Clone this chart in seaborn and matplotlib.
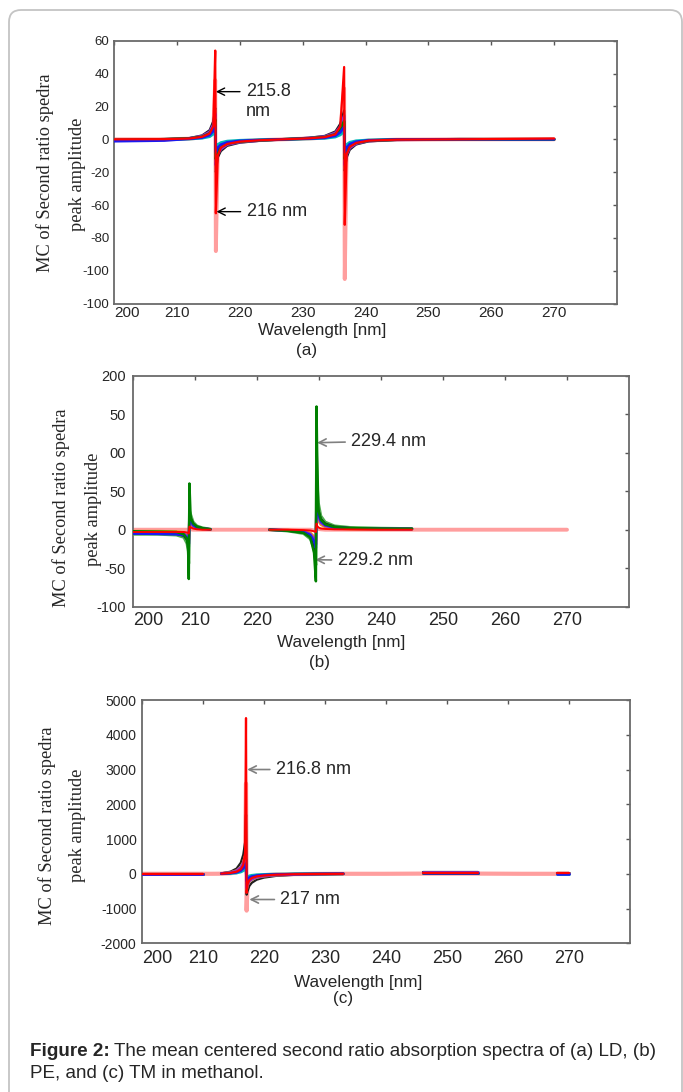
import numpy as np
import pandas as pd
import seaborn as sns
import matplotlib.pyplot as plt
from matplotlib.patches import FancyBboxPatch

# figure 2 - mean centered second ratio spectra, three stacked panels
sns.set_style('white')
plt.rcParams['font.family'] = ['Liberation Sans', 'DejaVu Sans']

nan = np.nan

# ---------------- panel (a) LD ----------------
wl_a = [200, 208, 212, 214, 215.2, 215.8, 216.1, 216.2, 216.5, 217, 218, 220, 223, 227,
        231, 233.5, 235.2, 236.0, 236.6, 236.7, 237.0, 237.5, 238.5, 240.5, 245, 255, 270]
a_pink = [0, 0, 0.4, 1.2, 3, 6, 36, -68, -8, -4, -2.2, -1.1, -0.5, 0,
          0.5, 1, 2.5, 6, 31, -85, -7, -3.6, -1.8, -0.7, -0.2, 0, 0]
a_cyan = [-0.3, 0, 0.2, 0.7, 1.6, 3.2, 5.4, -5.4, -3.2, -2, -1.1, -0.6, -0.3, 0,
          0.3, 0.6, 1.4, 2.7, 5, -5.4, -3.2, -1.8, -0.9, -0.4, -0.1, 0, 0]
a_blue = [-1.2, -0.8, 0.3, 1.0, 2.5, 5, 8, -8, -5, -3.2, -1.8, -0.9, -0.4, 0,
          0.4, 0.9, 2.1, 4.2, 7.7, -8.4, -4.9, -2.8, -1.4, -0.6, -0.1, 0, 0]
a_orange = [-0.4, 0, 0.4, 1.3, 3, 6, 10, -10, -6, -3.8, -2.1, -1.1, -0.5, 0,
            0.5, 1.1, 2.6, 5.1, 9.4, -10.2, -6, -3.4, -1.7, -0.7, -0.2, 0, 0]
a_green = [-0.5, 0, 0.5, 1.5, 3.5, 7, 12, -12, -7, -4.5, -2.5, -1.3, -0.6, 0,
           0.6, 1.3, 3, 6, 11, -12, -7, -4, -2, -0.8, -0.2, 0, 0]
a_purple = [-0.6, 0, 0.6, 2, 4.5, 9, 15.6, -15.6, -9, -5.9, -3.2, -1.7, -0.8, 0,
            0.8, 1.7, 3.9, 7.8, 14.3, -15.6, -9.1, -5.2, -2.6, -1.0, -0.3, 0, 0]
a_black = [-0.8, 0, 0.8, 2.4, 5.6, 11.2, 19, -20, -11.2, -7.2, -4, -2.1, -1, 0,
           1, 2.1, 4.8, 9.6, 17.6, -19.2, -11.2, -6.4, -3.2, -1.3, -0.3, 0, 0]
a_red = [0, 0.1, 0.5, 1.5, 3.5, 8, 54, -45, -10, -5, -2.8, -1.4, -0.6, 0,
         0.6, 1.3, 3, 8, 44, -52, -9, -4.5, -2.2, -0.8, -0.2, 0, 0.5]
a_yticks = [-100, -80, -60, -40, -20, 0, 20, 40, 60]
a_ylabels = ['-100', '-100', '-80', '-60', '-20', '0', '20', '40', '60']

# ---------------- panel (b) PE ----------------
wl_b = [200, 204, 207, 208.2, 208.7, 208.9, 209.0, 209.1, 209.3, 209.7, 210.3, 211.2, 212.5, 217,
        222, 225, 227.5, 228.6, 229.2, 229.5, 229.6, 229.7, 229.9, 230.3, 231, 232.5, 235, 240, 245, 270]
b_pink = [0, 0, 0, 0, 0, 0, -1, 1, 0.5, 0, 0, 0, 0, 0,
          0, 0, 0, 0, -1, -2, 3, 2, 1, 0.5, 0, 0, 0, 0, 0, 0]
b_blue = [-5, -5.5, -6, -7, -10, -16, -22, 18, 12, 6, 3, 1.5, 0.5, nan,
          0, -1, -3, -7, -15, -24, 45, 32, 20, 11, 6, 3, 1.8, 1.2, 1, nan]
b_purple = [-4, -4, -4.5, -5, -8, -13, -18, 14, 10, 5, 2.4, 1.2, 0.4, nan,
            0, -0.8, -2.4, -5.6, -12, -19, 36, 26, 16, 9, 5, 2.4, 1.4, 1, 0.8, nan]
b_orange = [-2, -2, -2.5, -3.6, -6, -10, -13, 11, 7, 3.6, 1.8, 0.9, 0.3, nan,
            0, -0.6, -1.8, -4.2, -9, -14, 27, 19, 12, 6.6, 3.6, 1.8, 1.1, 0.7, 0.6, nan]
b_black = [-5, -5, -5.5, -8, -13, -21, -29, 23, 16, 8, 4, 2, 0.6, nan,
           0, -1.3, -4, -9, -20, -31, 58, 42, 26, 14, 8, 4, 2.3, 1.6, 1.3, nan]
b_lightgreen = [-6, -6, -7, -10, -18, -28, -44, 25, 20, 10, 5, 2.5, 0.8, nan,
                0, -1.8, -5, -12, -25, -46, 112, 60, 35, 18, 10, 5, 3, 2, 1.5, nan]
b_green = [-2, -2.5, -3, -6, -12, -25, -64, 60, 15, 8, 4, 2, 0.5, nan,
           0, -1.5, -4, -10, -30, -67, 160, 97, 25, 13, 7, 3.5, 2, 1.5, 1.2, nan]
b_red = [-3, -3, -3, -3, -3.5, -4, -5, 4, 3, 1.5, 0.5, 0, 0, nan,
         0, 0, -0.5, -1, -2, -3, 8, 5, 3, 1.5, 1, 0.5, 0.3, 0, 0, nan]
b_yticks = [-100, -50, 0, 50, 100, 150, 200]
b_ylabels = ['-100', '-50', '0', '50', '00', '50', '200']

# ---------------- panel (c) TM ----------------
wl_c = [200, 210, 211.5, 213, 214.5, 215.5, 216.2, 216.6, 216.9, 217.05, 217.15, 217.3, 217.6, 218,
        218.8, 220, 222, 225, 229, 233, 240, 246, 250, 255, 262, 268, 270]
c_pink = [0, 0, 0, 2, 15, 40, 100, 200, 450, 2600, -1060, -250, -150, -100,
          -60, -40, -20, -10, -4, 0, 0, 5, 5, 5, 0, 0, 0]
c_cyan = [0, 0, nan, 2, 10, 24, 52, 88, 132, 170, -120, -90, -60, -44,
          -28, -18, -10, -5, -2, 0, nan, 15, 15, 15, nan, 5, 5]
c_blue = [0, 0, nan, 3, 18, 42, 90, 155, 230, 295, -210, -155, -105, -77,
          -49, -32, -18, -8, -3, 0, nan, 20, 20, 20, nan, 8, 8]
c_green = [0, 0, nan, 5, 25, 60, 130, 220, 330, 420, -300, -220, -150, -110,
           -70, -45, -25, -12, -5, 0, nan, 30, 30, 30, nan, 10, 10]
c_purple = [0, 0, nan, 7, 35, 84, 182, 308, 460, 590, -420, -310, -210, -155,
            -98, -63, -35, -17, -7, 0, nan, 40, 40, 40, nan, 12, 12]
c_orange = [0, 0, nan, 8, 38, 90, 195, 330, 500, 600, -450, -330, -225, -165,
            -105, -68, -38, -18, -8, 0, nan, 35, 35, 35, nan, 10, 10]
c_black = [0, 0, nan, 12, 60, 150, 320, 550, 900, 1700, -600, -500, -350, -260,
           -170, -110, -60, -30, -12, 0, nan, 45, 45, 45, nan, 15, 15]
c_red = [0, 0, nan, 5, 25, 60, 130, 250, 600, 4480, -550, -300, -180, -120,
         -75, -48, -26, -12, -5, 0, nan, 10, 10, 10, nan, 30, 30]
c_yticks = [-2000, -1000, 0, 1000, 2000, 3000, 4000, 5000]
c_ylabels = ['-2000', '-1000', '0', '1000', '2000', '3000', '4000', '5000']

x_ticks = [200, 210, 220, 230, 240, 250, 260, 270]
x_labels = ['200', '210', '220', '230', '240', '250', '260', '270']

colors = {
    'pink': (1.0, 0.62, 0.62), 'cyan': (0.0, 0.72, 0.72), 'blue': (0.1, 0.1, 0.95),
    'orange': (0.92, 0.6, 0.1), 'green': (0.0, 0.5, 0.0), 'lightgreen': (0.3, 0.68, 0.3),
    'purple': (0.55, 0.2, 0.8), 'black': (0.12, 0.12, 0.12), 'red': (1.0, 0.0, 0.0),
}

W, H = 683, 1092


def fx(x):
    return x / W


def fy(y):
    return 1 - y / H


def draw_series(ax, wl, amp, name, lw, z):
    df = pd.DataFrame({'wl': wl, 'amp': amp})
    # a nan in the list breaks the trace into separate pieces
    df['seg'] = df['amp'].isna().cumsum()
    df = df.dropna()
    sns.lineplot(data=df, x='wl', y='amp', units='seg', estimator=None, sort=False,
                 color=colors[name], linewidth=lw, ax=ax, zorder=z, legend=False)


def style_axes(ax, yticks, ylabels, xfs, yfs, xpad, ypad):
    ax.set_xlim(200, 280)
    ax.set_ylim(yticks[0], yticks[-1])
    ax.set_xticks(x_ticks)
    ax.set_xticklabels(x_labels)
    ax.set_yticks(yticks)
    ax.set_yticklabels(ylabels)
    ax.tick_params(axis='both', direction='in', top=True, right=True, length=3,
                   width=1, color='#555555')
    ax.tick_params(axis='x', labelsize=xfs, pad=xpad)
    ax.tick_params(axis='y', labelsize=yfs, pad=ypad)
    for s in ax.spines.values():
        s.set_color('#6a6a6a')
        s.set_linewidth(1.3)
    ax.set_xlabel('')
    ax.set_ylabel('')
    # the first wavelength label sits just inside the corner, as in the original
    ax.get_xticklabels()[0].set_horizontalalignment('left')


fig = plt.figure(figsize=(W / 100, H / 100), dpi=100)

# page frame behind the figure
frame = FancyBboxPatch((0.09, -0.5), 6.73, 10.82 + 0.5, boxstyle='round,pad=0,rounding_size=0.12',
                       transform=fig.dpi_scale_trans, facecolor='none', edgecolor='#c4c4c4', lw=1.3)
fig.patches.append(frame)

ax_a = fig.add_axes([fx(114), fy(303.7), fx(617) - fx(114), (303.7 - 40.7) / H])
ax_b = fig.add_axes([fx(133), fy(606.7), fx(629) - fx(133), (606.7 - 375.7) / H])
ax_c = fig.add_axes([fx(142), fy(943.3), fx(630) - fx(142), (943.3 - 700) / H])

panels = [
    (ax_a, wl_a, [('pink', a_pink, 2.8), ('black', a_black, 1.5), ('orange', a_orange, 2), ('cyan', a_cyan, 2),
                  ('purple', a_purple, 2), ('green', a_green, 2), ('blue', a_blue, 1.8), ('red', a_red, 1.6)]),
    (ax_b, wl_b, [('pink', b_pink, 2.8), ('lightgreen', b_lightgreen, 2), ('black', b_black, 1.5),
                  ('orange', b_orange, 2), ('purple', b_purple, 2), ('blue', b_blue, 1.8),
                  ('green', b_green, 1.8), ('red', b_red, 1.4)]),
    (ax_c, wl_c, [('pink', c_pink, 3), ('black', c_black, 1.6), ('cyan', c_cyan, 2), ('orange', c_orange, 2),
                  ('green', c_green, 2), ('purple', c_purple, 2), ('blue', c_blue, 1.8), ('red', c_red, 1.6)]),
]
for ax, wl, series in panels:
    for z, (name, amp, lw) in enumerate(series):
        draw_series(ax, wl, amp, name, lw, 2 + z)

style_axes(ax_a, a_yticks, a_ylabels, 11, 9.5, 2, 3.5)
style_axes(ax_b, b_yticks, b_ylabels, 13, 10.5, 3.5, 5)
style_axes(ax_c, c_yticks, c_ylabels, 13, 10, 5, 4)

# peak annotations
ann_fs = 13
black_arrow = dict(arrowstyle='->', color='black', lw=1, shrinkA=2, shrinkB=0)
grey_arrow = dict(arrowstyle='->', color='#808080', lw=1.2, shrinkA=2, shrinkB=0)
ax_a.annotate('215.8', xy=(216.2, 29), xytext=(221.0, 29), ha='left', va='center',
              fontsize=ann_fs, arrowprops=black_arrow)
ax_a.text(221.0, 17, 'nm', ha='left', va='center', fontsize=ann_fs)
ax_a.annotate('216 nm', xy=(216.3, -44), xytext=(221.1, -44), ha='left', va='center',
              fontsize=ann_fs, arrowprops=black_arrow)
ax_b.annotate('229.4 nm', xy=(229.7, 113), xytext=(235.2, 115), ha='left', va='center',
              fontsize=ann_fs, arrowprops=grey_arrow)
ax_b.annotate('229.2 nm', xy=(229.4, -39), xytext=(233.0, -40), ha='left', va='center',
              fontsize=ann_fs, arrowprops=grey_arrow)
ax_c.annotate('216.8 nm', xy=(217.25, 3000), xytext=(221.95, 3000), ha='left', va='center',
              fontsize=ann_fs, arrowprops=grey_arrow)
ax_c.annotate('217 nm', xy=(217.6, -740), xytext=(222.7, -740), ha='left', va='center',
              fontsize=ann_fs, arrowprops=grey_arrow)

# axis titles, drawn as figure text so each panel can sit where it does on the page
ylab_fs = 13.2
serif = ['Liberation Serif', 'DejaVu Serif']
for (x1, y1, x2, y2) in [(45, 173, 77, 174), (61, 508, 93, 509), (47, 826, 78, 825)]:
    fig.text(fx(x1), fy(y1), 'MC of Second ratio spedra', rotation=90, ha='center', va='center',
             fontsize=ylab_fs, family=serif)
    fig.text(fx(x2), fy(y2), 'peak amplitude', rotation=90, ha='center', va='center',
             fontsize=ylab_fs, family=serif)

for (xw, yw, xp, yp, tag) in [(322, 330, 307, 350, '(a)'), (341, 643, 319, 662, '(b)'),
                              (358, 982, 343, 999, '(c)')]:
    fig.text(fx(xw), fy(yw), 'Wavelength [nm]', ha='center', va='center', fontsize=12.3)
    fig.text(fx(xp), fy(yp), tag, ha='center', va='center', fontsize=12.3)

# caption
cap_fs = 13.6
t0 = fig.text(fx(30), fy(1051), 'Figure 2:', ha='left', va='center', fontsize=cap_fs, weight='bold')
fig.canvas.draw()
bb = t0.get_window_extent()
fig.text((bb.x1 + 4) / W, fy(1051), 'The mean centered second ratio absorption spectra of (a) LD, (b)',
         ha='left', va='center', fontsize=cap_fs)
fig.text(fx(30), fy(1074), 'PE, and (c) TM in methanol.', ha='left', va='center', fontsize=cap_fs)

fig.savefig('out.png', dpi=100)
